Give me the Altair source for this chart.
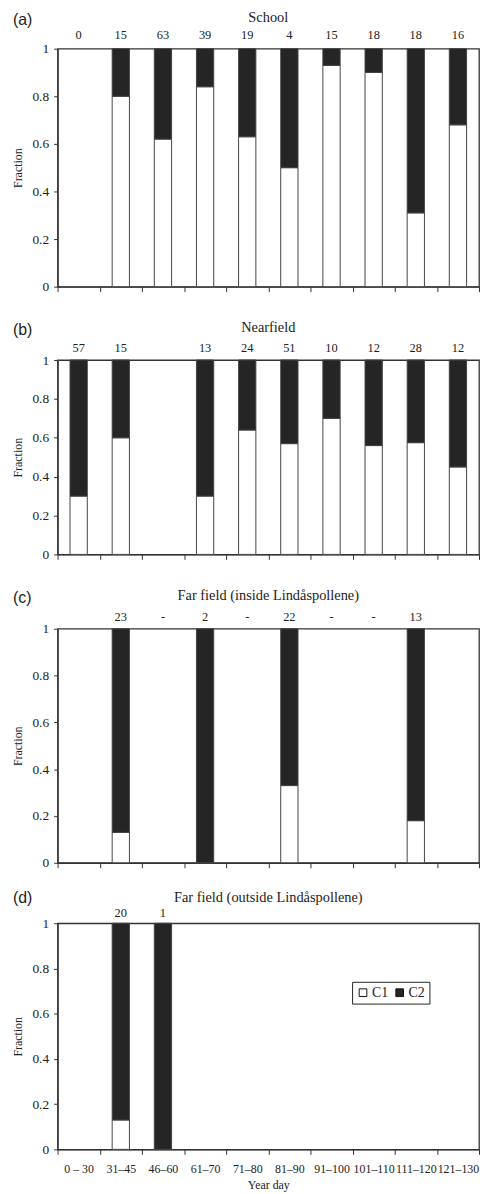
import altair as alt
import pandas as pd

categories = ["0 – 30", "31–45", "46–60", "61–70", "71–80", "81–90",
              "91–100", "101–110", "111–120", "121–130"]

school_counts = ["0", "15", "63", "39", "19", "4", "15", "18", "18", "16"]
school_c1 = [None, 0.80, 0.62, 0.84, 0.63, 0.50, 0.93, 0.90, 0.31, 0.68]

near_counts = ["57", "15", "", "13", "24", "51", "10", "12", "28", "12"]
near_c1 = [0.30, 0.60, None, 0.30, 0.64, 0.57, 0.70, 0.56, 0.575, 0.45]

farin_counts = ["", "23", "-", "2", "-", "22", "-", "-", "13", ""]
farin_c1 = [None, 0.13, None, 0.0, None, 0.33, None, None, 0.18, None]

farout_counts = ["", "20", "1", "", "", "", "", "", "", ""]
farout_c1 = [None, 0.13, 0.0, None, None, None, None, None, None, None]

letters = ["(a)", "(b)", "(c)", "(d)"]
titles = ["School", "Nearfield", "Far field (inside Lindåspollene)",
          "Far field (outside Lindåspollene)"]

SERIF = "Liberation Serif"
SANS = "Liberation Sans"
DARK = "#252525"
W = 425

panel_specs = [
    (school_counts, school_c1, 240, -29, -31, -14),
    (near_counts, near_c1, 196, -30, -32, -12),
    (farin_counts, farin_c1, 236, -31, -33, -12),
    (farout_counts, farout_c1, 228, -25, -25, -10),
]


def make_panel(i):
    counts, c1, h, ly, ty, cy = panel_specs[i]
    last = i == 3
    rows = []
    for cat, v in zip(categories, c1):
        if v is None:
            continue
        rows.append({"cat": cat, "cls": "C1", "ord": 0, "frac": v})
        rows.append({"cat": cat, "cls": "C2", "ord": 1, "frac": round(1 - v, 4)})
    df = pd.DataFrame(rows)
    cdf = pd.DataFrame([{"cat": c, "n": n} for c, n in zip(categories, counts) if n != ""])
    hdf = pd.DataFrame([{"letter": letters[i], "title": titles[i]}])

    xscale = alt.Scale(domain=categories, paddingInner=0, paddingOuter=0)
    if last:
        xaxis = alt.Axis(title="Year day", labelAngle=0, tickBand="extent", tickSize=5,
                         labelPadding=9, labelFont=SERIF, labelFontSize=12,
                         titleFont=SERIF, titleFontSize=12, titleFontWeight="normal",
                         titlePadding=5, labelColor="#222", titleColor="#222")
        legend = alt.Legend(title=None, orient="none", legendX=297, legendY=59,
                            direction="horizontal", symbolType="square", symbolSize=60,
                            symbolStrokeColor="#111", symbolStrokeWidth=1,
                            labelFont=SERIF, labelFontSize=14, labelColor="#222",
                            strokeColor="#222", fillColor="white", padding=4,
                            columnPadding=4, labelOffset=2)
    else:
        xaxis = alt.Axis(title=None, labels=False, tickBand="extent", tickSize=5)
        legend = None

    bars = alt.Chart(df).mark_bar(
        width=alt.RelativeBandSize(0.41), stroke="#444", strokeWidth=1
    ).encode(
        x=alt.X("cat:N", sort=categories, scale=xscale, axis=xaxis),
        y=alt.Y("frac:Q", stack="zero", scale=alt.Scale(domain=[0, 1]),
                axis=alt.Axis(values=[0, 0.2, 0.4, 0.6, 0.8, 1], format="~g",
                              tickSize=4, labelPadding=5, grid=False,
                              title="Fraction", titleFont=SERIF, titleFontSize=12,
                              titleFontWeight="normal", titlePadding=8,
                              labelFont=SERIF, labelFontSize=13.5,
                              labelColor="#222", titleColor="#222")),
        color=alt.Color("cls:N", scale=alt.Scale(domain=["C1", "C2"], range=["white", DARK]),
                        legend=legend),
        order=alt.Order("ord:Q"),
    )
    cnt = alt.Chart(cdf).mark_text(font=SERIF, fontSize=12.5, baseline="middle", color="#222").encode(
        x=alt.X("cat:N", sort=categories, scale=xscale),
        y=alt.value(cy),
        text="n:N",
    )
    let = alt.Chart(hdf).mark_text(font=SANS, fontSize=16, align="left", baseline="middle",
                                   color="#222").encode(
        x=alt.value(-45), y=alt.value(ly), text="letter:N")
    tit = alt.Chart(hdf).mark_text(font=SERIF, fontSize=14.5, align="center", baseline="middle",
                                   color="#222").encode(
        x=alt.value(W / 2), y=alt.value(ty), text="title:N")
    return alt.layer(bars, cnt, let, tit).properties(width=W, height=h)


p = [make_panel(i) for i in range(4)]
top3 = alt.vconcat(p[0], p[1], p[2], spacing=25).resolve_scale(color="independent")
chart = alt.vconcat(top3, p[3], spacing=19).resolve_scale(color="independent").properties(
    padding={"top": -4, "left": 2, "right": 0, "bottom": 0}
).configure_view(stroke="#333", strokeWidth=1.3).configure_axis(
    domainColor="#333", tickColor="#333", domainWidth=1.3
)

chart.save("out.html", embed_options={"renderer": "svg", "actions": False})
